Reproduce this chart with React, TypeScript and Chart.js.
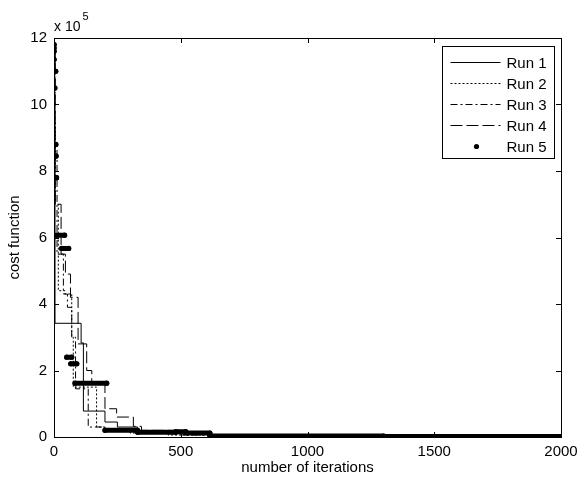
import React, { useEffect, useRef } from "react";
import { Chart, registerables } from "chart.js";

Chart.register(...registerables);

// values of the cost function are in units of 10^5
const xTickStep = 500;
const xMax = 2000;
const yTickStep = 2;
const yMax = 12;
const yExponent = "5";

const runLabels = ["Run 1", "Run 2", "Run 3", "Run 4", "Run 5"];

const run1Iter = [0, 2, 4, 107, 116, 201, 250, 330, 450, 620, 2000];
const run1Cost = [11.7, 8.0, 3.42, 2.83, 0.78, 0.45, 0.3, 0.18, 0.1, 0.03, 0.02];

const run2Iter = [0, 3, 6, 17, 43, 70, 76, 168, 201, 300, 450, 620, 2000];
const run2Cost = [11.7, 9.5, 7.0, 4.4, 4.3, 3.0, 1.5, 0.3, 0.2, 0.12, 0.06, 0.03, 0.02];

const run3Iter = [0, 4, 12, 37, 53, 70, 85, 135, 201, 330, 500, 620, 2000];
const run3Cost = [11.7, 8.8, 5.5, 4.3, 3.9, 3.0, 1.45, 0.3, 0.22, 0.12, 0.06, 0.03, 0.02];

const run4Iter = [0, 5, 28, 45, 65, 95, 129, 149, 201, 247, 313, 345, 500, 620, 2000];
const run4Cost = [11.7, 7.0, 5.5, 4.9, 4.2, 2.8, 2.0, 1.6, 0.85, 0.6, 0.32, 0.2, 0.1, 0.04, 0.02];

// Run 5 is plotted as dots; runs of dots at equal cost are listed as segments
const run5Start = [0, 0, 0, 0, 0, 3, 7, 8, 10, 10, 30, 50, 66, 83, 201, 330, 480, 520, 615, 1300];
const run5End = [0, 0, 0, 0, 7, 3, 7, 8, 10, 42, 58, 70, 90, 208, 330, 480, 520, 615, 1300, 2000];
const run5Cost = [11.8, 11.7, 11.6, 11.35, 11.0, 10.5, 8.8, 8.45, 7.8, 6.07, 5.67, 2.4, 2.2, 1.62, 0.2, 0.14, 0.16, 0.12, 0.03, 0.015];

const lineDashes: number[][] = [[], [2, 2], [7, 3, 2, 3], [12, 4], []];

const FONT = "'Liberation Sans', Arial, sans-serif";

function toPoints(xs: number[], ys: number[]) {
  return xs.map((x, i) => ({ x, y: ys[i] }));
}

function run5Points() {
  const pts: { x: number; y: number | null }[] = [];
  run5Start.forEach((s, i) => {
    pts.push({ x: s, y: run5Cost[i] });
    pts.push({ x: run5End[i], y: run5Cost[i] });
    pts.push({ x: run5End[i], y: null });
  });
  return pts;
}

const framePlugin = {
  id: "matlabFrame",
  afterDraw(chart: any) {
    const { ctx, chartArea } = chart;
    const { left, right, top, bottom } = chartArea;
    const xs = chart.scales.x;
    const ys = chart.scales.y;
    ctx.save();
    ctx.strokeStyle = "#000";
    ctx.lineWidth = 1;
    ctx.setLineDash([]);
    ctx.strokeRect(Math.round(left) + 0.5, Math.round(top) + 0.5, Math.round(right - left), Math.round(bottom - top));
    const tl = 5;
    ctx.beginPath();
    for (let v = 0; v <= xMax; v += xTickStep) {
      const px = Math.round(xs.getPixelForValue(v)) + 0.5;
      ctx.moveTo(px, bottom);
      ctx.lineTo(px, bottom - tl);
      ctx.moveTo(px, top);
      ctx.lineTo(px, top + tl);
    }
    for (let v = 0; v <= yMax; v += yTickStep) {
      const py = Math.round(ys.getPixelForValue(v)) + 0.5;
      ctx.moveTo(left, py);
      ctx.lineTo(left + tl, py);
      ctx.moveTo(right, py);
      ctx.lineTo(right - tl, py);
    }
    ctx.stroke();

    // exponent label
    ctx.fillStyle = "#000";
    ctx.textBaseline = "alphabetic";
    ctx.textAlign = "left";
    ctx.font = `14px ${FONT}`;
    ctx.fillText("x 10", left, top - 7);
    const w = ctx.measureText("x 10").width;
    ctx.font = `11px ${FONT}`;
    ctx.fillText(yExponent, left + w + 2, top - 18);

    // legend
    const bw = 112;
    const bh = 112;
    const bx = Math.round(right - 7 - bw) + 0.5;
    const by = Math.round(top + 8) + 0.5;
    ctx.fillStyle = "#fff";
    ctx.fillRect(bx, by, bw, bh);
    ctx.strokeStyle = "#000";
    ctx.strokeRect(bx, by, bw, bh);
    ctx.font = `15px ${FONT}`;
    ctx.textBaseline = "middle";
    runLabels.forEach((lab, i) => {
      const y = Math.round(by + 15 + i * 21) + 0.5;
      ctx.strokeStyle = "#000";
      ctx.fillStyle = "#000";
      if (i < 4) {
        ctx.lineWidth = 1;
        ctx.setLineDash(lineDashes[i]);
        ctx.beginPath();
        ctx.moveTo(bx + 8, y);
        ctx.lineTo(bx + 58, y);
        ctx.stroke();
        ctx.setLineDash([]);
      } else {
        ctx.beginPath();
        ctx.arc(bx + 34, y, 2.6, 0, Math.PI * 2);
        ctx.fill();
      }
      ctx.fillText(lab, bx + 64, y + 1);
    });
    ctx.restore();
  },
};

export default function App() {
  const ref = useRef<HTMLCanvasElement | null>(null);
  useEffect(() => {
    if (!ref.current) return;
    const lineSets = [
      [run1Iter, run1Cost],
      [run2Iter, run2Cost],
      [run3Iter, run3Cost],
      [run4Iter, run4Cost],
    ].map(([xs, ys], i) => ({
      label: runLabels[i],
      data: toPoints(xs, ys),
      stepped: "before" as const,
      borderColor: "#000",
      borderWidth: 1,
      borderDash: lineDashes[i],
      pointRadius: 0,
      fill: false,
    }));
    const chart = new Chart(ref.current, {
      type: "line",
      data: {
        datasets: [
          ...lineSets,
          {
            label: runLabels[4],
            data: run5Points(),
            borderColor: "#000",
            backgroundColor: "#000",
            borderWidth: 5,
            borderCapStyle: "round",
            pointRadius: 2.6,
            pointBorderWidth: 0,
            pointBackgroundColor: "#000",
            spanGaps: false,
            fill: false,
          } as any,
        ],
      },
      options: {
        animation: false,
        responsive: false,
        layout: { padding: { top: 38, right: 18, left: 0, bottom: 0 } },
        plugins: {
          legend: { display: false },
          tooltip: { enabled: false },
        },
        scales: {
          x: {
            type: "linear",
            min: 0,
            max: xMax,
            grid: { display: false, drawTicks: false },
            border: { display: false },
            ticks: {
              stepSize: xTickStep,
              color: "#000",
              font: { family: FONT, size: 15 },
              padding: 6,
              maxRotation: 0,
              callback: (v: any) => String(v),
            },
            title: {
              display: true,
              text: "number of iterations",
              color: "#000",
              font: { family: FONT, size: 15 },
              padding: { top: 0, bottom: 2 },
            },
            afterFit(scale: any) {
              scale.height = 42;
              scale.paddingLeft = 0;
              scale.paddingRight = 0;
            },
          },
          y: {
            type: "linear",
            min: 0,
            max: yMax,
            grid: { display: false, drawTicks: false },
            border: { display: false },
            ticks: {
              stepSize: yTickStep,
              color: "#000",
              font: { family: FONT, size: 15 },
              padding: 7,
              callback: (v: any) => String(v),
            },
            title: {
              display: true,
              text: "cost function",
              color: "#000",
              font: { family: FONT, size: 15 },
              padding: { top: 6, bottom: 0 },
            },
            afterFit(scale: any) {
              scale.width = 54;
              scale.paddingTop = 0;
              scale.paddingBottom = 0;
            },
          },
        },
      },
      plugins: [framePlugin],
    });
    return () => chart.destroy();
  }, []);
  return (
    <div style={{ position: "fixed", left: 0, top: 0, width: 579, height: 479, background: "#fff" }}>
      <canvas ref={ref} width={579} height={479} />
    </div>
  );
}
